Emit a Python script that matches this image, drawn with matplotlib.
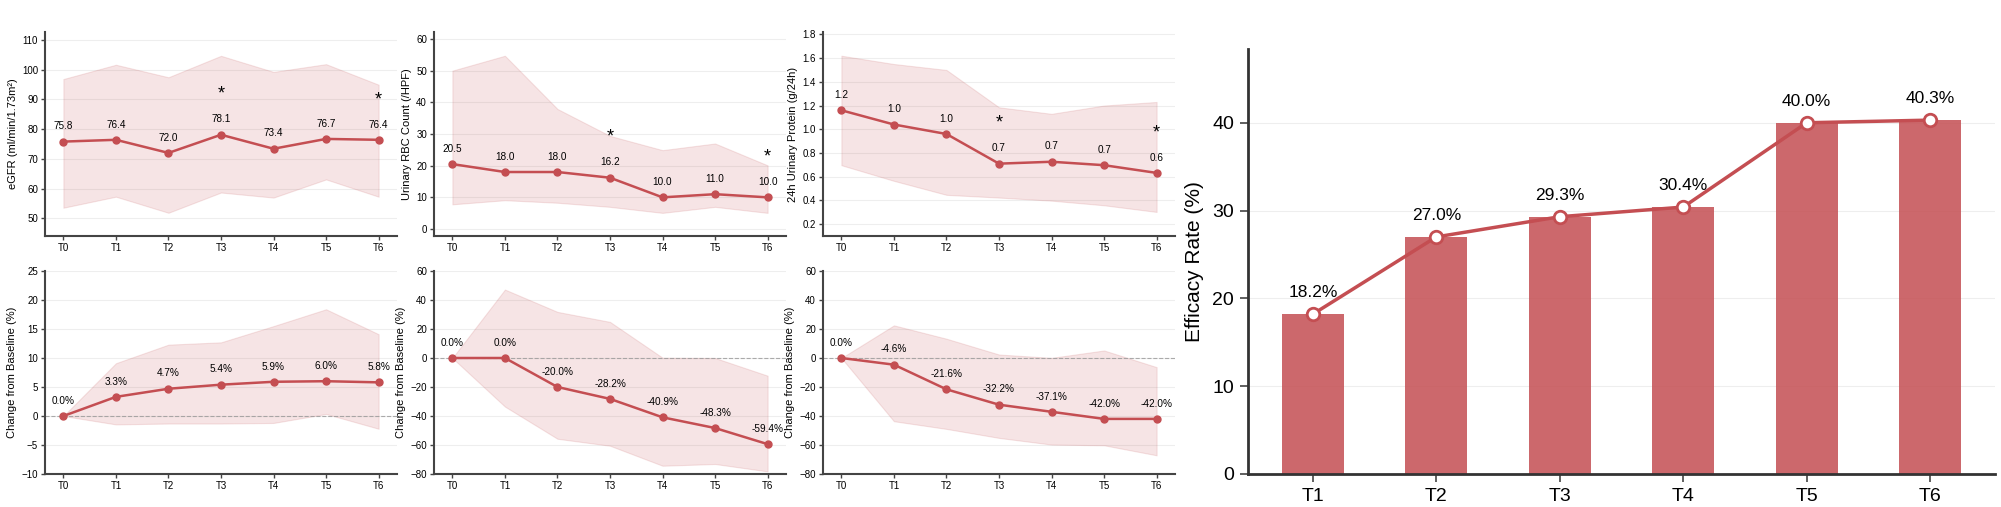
import matplotlib
matplotlib.use("Agg")
import matplotlib.pyplot as plt
import numpy as np

plt.rcParams['font.family'] = ['Liberation Sans', 'DejaVu Sans']

# --- data ---
times = ["T0", "T1", "T2", "T3", "T4", "T5", "T6"]

egfr_mean = [75.8, 76.4, 72.0, 78.1, 73.4, 76.7, 76.4]
egfr_hi = [96.8, 101.6, 97.4, 104.6, 99.2, 101.8, 94.9]
egfr_lo = [53.6, 57.3, 51.9, 58.7, 57.0, 63.1, 57.3]

rbc_mean = [20.5, 18.0, 18.0, 16.2, 10.0, 11.0, 10.0]
rbc_hi = [50.0, 54.7, 37.9, 29.4, 24.9, 27.0, 20.1]
rbc_lo = [7.8, 9.1, 8.3, 7.0, 5.1, 7.0, 5.1]

prot_mean = [1.16, 1.04, 0.96, 0.71, 0.726, 0.697, 0.632]
prot_hi = [1.62, 1.55, 1.50, 1.185, 1.13, 1.20, 1.23]
prot_lo = [0.697, 0.565, 0.447, 0.424, 0.398, 0.359, 0.303]

egfr_chg = [0.0, 3.3, 4.7, 5.4, 5.9, 6.0, 5.8]
egfr_chg_hi = [0.0, 9.1, 12.3, 12.7, 15.5, 18.4, 14.1]
egfr_chg_lo = [0.0, -1.45, -1.3, -1.3, -1.2, 0.35, -2.2]

rbc_chg = [0.0, 0.0, -20.0, -28.2, -40.9, -48.3, -59.4]
rbc_chg_hi = [0.0, 47.2, 31.8, 24.9, 0.2, 0.0, -12.2]
rbc_chg_lo = [0.0, -33.5, -55.7, -60.5, -74.3, -73.1, -78.2]

prot_chg = [0.0, -4.6, -21.6, -32.2, -37.1, -42.0, -42.0]
prot_chg_hi = [0.0, 22.5, 13.3, 2.4, 0.1, 5.2, -6.3]
prot_chg_lo = [0.0, -43.6, -48.9, -55.1, -59.7, -60.2, -67.1]

sig_idx = [3, 6]

eff_times = ["T1", "T2", "T3", "T4", "T5", "T6"]
eff_rate = [18.2, 27.0, 29.3, 30.4, 40.0, 40.3]

RED = '#C44E52'
SPINE = '#444444'
W, H = 2001, 507


def place(x0, y_top, x1, y_bot):
    return [x0 / W, 1 - y_bot / H, (x1 - x0) / W, (y_bot - y_top) / H]


def style_ax(ax, tick_size):
    for s in ['top', 'right']:
        ax.spines[s].set_visible(False)
    for s in ['left', 'bottom']:
        ax.spines[s].set_color(SPINE)
        ax.spines[s].set_linewidth(1.5)
    ax.tick_params(axis='both', labelsize=tick_size, color=SPINE, length=3, width=1, pad=2)
    ax.yaxis.grid(True, color='#eeeeee', linewidth=0.8)
    ax.set_axisbelow(True)


def trend_panel(ax, mean, lo, hi, ylabel, ylim, yticks, pct=False, sig=None):
    x = np.arange(len(times))
    ax.fill_between(x, lo, hi, color=RED, alpha=0.15, linewidth=0.8)
    if pct:
        ax.axhline(0, color='#999999', linestyle='--', linewidth=0.8, alpha=0.8)
    ax.plot(x, mean, color=RED, linewidth=1.8, marker='o', markersize=5)
    for xi, v in zip(x, mean):
        txt = f"{v:.1f}%" if pct else f"{v:.1f}"
        ax.annotate(txt, (xi, v), xytext=(0, 11), textcoords='offset points',
                    ha='center', va='center', fontsize=7.2)
    if sig:
        for i in sig:
            ax.annotate('*', (x[i], mean[i]), xytext=(0, 29), textcoords='offset points',
                        ha='center', va='center', fontsize=13)
    ax.set_xticks(x)
    ax.set_xticklabels(times)
    ax.set_xlim(-0.35, 6.35)
    ax.set_ylim(*ylim)
    ax.set_yticks(yticks)
    ax.set_ylabel(ylabel, fontsize=8, labelpad=3)
    style_ax(ax, 7)


fig = plt.figure(figsize=(W / 100, H / 100), dpi=100)

cols = [45, 434, 823]
pw = 352
top_row = (32, 236)
bot_row = (271, 474)

ax1 = fig.add_axes(place(cols[0], top_row[0], cols[0] + pw, top_row[1]))
trend_panel(ax1, egfr_mean, egfr_lo, egfr_hi, 'eGFR (ml/min/1.73m²)',
            (44.1, 112.6), np.arange(50, 111, 10), sig=sig_idx)
ax1.set_yticklabels([f"{t:.0f}" for t in np.arange(50, 111, 10)])

ax2 = fig.add_axes(place(cols[1], top_row[0], cols[1] + pw, top_row[1]))
trend_panel(ax2, rbc_mean, rbc_lo, rbc_hi, 'Urinary RBC Count (/HPF)',
            (-2.2, 62.2), np.arange(0, 61, 10), sig=sig_idx)

ax3 = fig.add_axes(place(cols[2], top_row[0], cols[2] + pw, top_row[1]))
trend_panel(ax3, prot_mean, prot_lo, prot_hi, '24h Urinary Protein (g/24h)',
            (0.10, 1.82), np.arange(0.2, 1.81, 0.2), sig=sig_idx)
ax3.set_yticklabels([f"{t:.1f}" for t in np.arange(0.2, 1.81, 0.2)])

ax4 = fig.add_axes(place(cols[0], bot_row[0], cols[0] + pw, bot_row[1]))
trend_panel(ax4, egfr_chg, egfr_chg_lo, egfr_chg_hi, 'Change from Baseline (%)',
            (-10, 25), np.arange(-10, 26, 5), pct=True)

ax5 = fig.add_axes(place(cols[1], bot_row[0], cols[1] + pw, bot_row[1]))
trend_panel(ax5, rbc_chg, rbc_chg_lo, rbc_chg_hi, 'Change from Baseline (%)',
            (-80, 60), np.arange(-80, 61, 20), pct=True)

ax6 = fig.add_axes(place(cols[2], bot_row[0], cols[2] + pw, bot_row[1]))
trend_panel(ax6, prot_chg, prot_chg_lo, prot_chg_hi, 'Change from Baseline (%)',
            (-80, 60), np.arange(-80, 61, 20), pct=True)

# efficacy rate panel
axr = fig.add_axes(place(1248, 49, 1995, 474))
xe = np.arange(len(eff_times))
axr.bar(xe, eff_rate, width=0.5, color=RED, alpha=0.85, zorder=2)
axr.plot(xe, eff_rate, color=RED, linewidth=2.5, marker='o', markersize=9,
         markerfacecolor='white', markeredgecolor=RED, markeredgewidth=2, zorder=3)
for xi, v in zip(xe, eff_rate):
    axr.annotate(f"{v:.1f}%", (xi, v), xytext=(0, 15.5), textcoords='offset points',
                 ha='center', va='center', fontsize=12.5)
axr.set_xticks(xe)
axr.set_xticklabels(eff_times)
axr.set_ylim(0, 48.4)
axr.set_yticks([0, 10, 20, 30, 40])
axr.set_ylabel('Efficacy Rate (%)', fontsize=15, labelpad=6)
style_ax(axr, 14)
axr.tick_params(length=6, width=1.2, pad=4)
axr.spines['left'].set_color('#333333')
axr.spines['bottom'].set_color('#333333')
axr.spines['left'].set_linewidth(2)
axr.spines['bottom'].set_linewidth(2)

fig.savefig('out.png', dpi=100)
